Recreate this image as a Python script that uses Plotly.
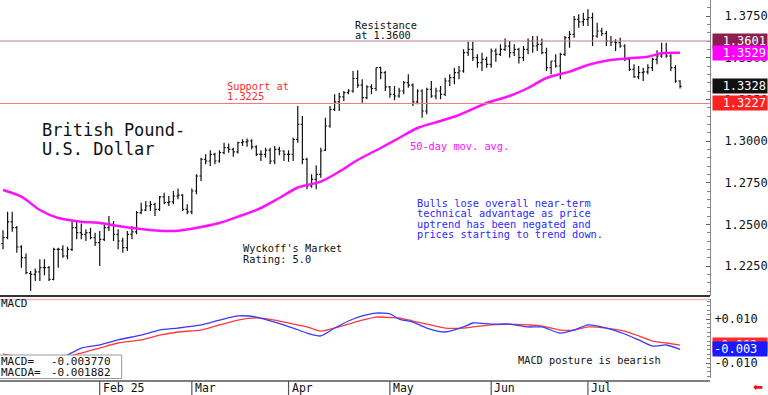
import pandas as pd
import plotly.graph_objects as go

# ---------------- data ----------------
dates = pd.bdate_range("2025-01-03", "2025-07-29").strftime("%Y-%m-%d").tolist()

opens = [1.2385,1.2420,1.2515,1.2480,1.2365,1.2300,1.2205,1.2200,1.2215,1.2240,1.2240,1.2170,1.2350,1.2350,1.2310,1.2350,1.2480,1.2450,1.2440,1.2450,1.2420,
         1.2390,1.2410,1.2480,1.2500,1.2440,1.2400,1.2360,1.2440,1.2455,1.2570,1.2585,1.2610,1.2620,1.2590,1.2665,1.2630,1.2635,1.2670,1.2675,1.2590,
         1.2575,1.2700,1.2790,1.2890,1.2880,1.2920,1.2880,1.2930,1.2960,1.2950,1.2935,1.2990,1.2995,1.3000,1.2965,1.2920,1.2920,1.2945,1.2880,1.2950,1.2940,
         1.2920,1.2920,1.3010,1.3100,1.2890,1.2730,1.2770,1.2800,1.2945,1.3090,1.3190,1.3235,1.3265,1.3290,1.3300,1.3375,1.3335,1.3260,1.3325,1.3315,1.3440,1.3410,
         1.3325,1.3280,1.3270,1.3300,1.3350,1.3335,1.3235,1.3300,1.3180,1.3310,1.3270,1.3300,1.3280,1.3360,1.3380,1.3410,1.3420,1.3530,1.3550,1.3500,1.3470,1.3490,
         1.3460,1.3540,1.3520,1.3550,1.3570,1.3530,1.3550,1.3500,1.3550,1.3600,1.3570,1.3580,1.3530,1.3440,1.3480,1.3450,1.3520,1.3620,1.3640,1.3730,1.3715,
         1.3730,1.3740,1.3630,1.3660,1.3645,1.3600,1.3595,1.3590,1.3570,1.3490,1.3430,1.3385,1.3410,1.3415,1.3440,1.3490,1.3510,1.3530,1.3510,1.3440,1.3360]

highs = [1.2465,1.2575,1.2575,1.2490,1.2375,1.2325,1.2220,1.2235,1.2290,1.2290,1.2250,1.2360,1.2360,1.2375,1.2365,1.2520,1.2520,1.2505,1.2470,1.2480,1.2450,
         1.2460,1.2500,1.2550,1.2520,1.2470,1.2420,1.2460,1.2490,1.2580,1.2630,1.2640,1.2640,1.2630,1.2670,1.2690,1.2670,1.2700,1.2715,1.2680,1.2620,
         1.2715,1.2800,1.2900,1.2920,1.2945,1.2930,1.2945,1.2990,1.2985,1.2960,1.2995,1.3010,1.3015,1.3010,1.2975,1.2945,1.2960,1.2960,1.2970,1.2965,1.2945,
         1.2945,1.3020,1.3210,1.3150,1.2900,1.2800,1.2855,1.2960,1.3140,1.3210,1.3280,1.3290,1.3300,1.3310,1.3420,1.3425,1.3370,1.3335,1.3340,1.3440,1.3445,1.3420,
         1.3330,1.3330,1.3320,1.3360,1.3400,1.3345,1.3310,1.3310,1.3320,1.3360,1.3320,1.3330,1.3380,1.3400,1.3440,1.3450,1.3550,1.3595,1.3595,1.3520,1.3530,1.3505,
         1.3555,1.3555,1.3580,1.3615,1.3600,1.3580,1.3560,1.3570,1.3615,1.3630,1.3630,1.3615,1.3560,1.3480,1.3520,1.3530,1.3630,1.3660,1.3750,1.3760,1.3770,
         1.3790,1.3770,1.3710,1.3680,1.3660,1.3630,1.3610,1.3620,1.3580,1.3500,1.3460,1.3450,1.3440,1.3460,1.3500,1.3545,1.3590,1.3590,1.3520,1.3455,1.3365]

lows = [1.2350,1.2410,1.2455,1.2330,1.2240,1.2200,1.2100,1.2160,1.2160,1.2195,1.2160,1.2165,1.2240,1.2300,1.2290,1.2340,1.2410,1.2410,1.2400,1.2410,1.2370,
        1.2250,1.2400,1.2460,1.2400,1.2350,1.2330,1.2340,1.2410,1.2440,1.2560,1.2580,1.2580,1.2550,1.2580,1.2620,1.2610,1.2620,1.2650,1.2580,1.2560,
        1.2560,1.2680,1.2760,1.2860,1.2850,1.2860,1.2870,1.2920,1.2930,1.2905,1.2925,1.2970,1.2965,1.2950,1.2910,1.2880,1.2900,1.2860,1.2860,1.2915,1.2880,
        1.2875,1.2880,1.2990,1.2860,1.2710,1.2720,1.2710,1.2780,1.2940,1.3080,1.3180,1.3180,1.3240,1.3280,1.3290,1.3320,1.3230,1.3250,1.3280,1.3300,1.3370,1.3300,
        1.3260,1.3245,1.3260,1.3280,1.3320,1.3210,1.3220,1.3140,1.3160,1.3260,1.3250,1.3250,1.3270,1.3330,1.3340,1.3370,1.3410,1.3510,1.3480,1.3440,1.3420,1.3440,
        1.3440,1.3475,1.3510,1.3540,1.3500,1.3510,1.3465,1.3480,1.3520,1.3530,1.3540,1.3520,1.3420,1.3400,1.3440,1.3370,1.3510,1.3560,1.3620,1.3680,1.3690,
        1.3690,1.3570,1.3620,1.3630,1.3570,1.3570,1.3540,1.3560,1.3480,1.3420,1.3380,1.3370,1.3360,1.3400,1.3420,1.3460,1.3500,1.3500,1.3420,1.3350,1.3315]

closes = [1.2420,1.2515,1.2480,1.2365,1.2300,1.2210,1.2200,1.2215,1.2240,1.2240,1.2170,1.2350,1.2350,1.2310,1.2350,1.2480,1.2450,1.2440,1.2450,1.2420,1.2390,
          1.2410,1.2480,1.2500,1.2440,1.2400,1.2360,1.2440,1.2455,1.2570,1.2585,1.2610,1.2620,1.2590,1.2665,1.2630,1.2635,1.2670,1.2675,1.2590,1.2575,
          1.2700,1.2790,1.2890,1.2880,1.2920,1.2880,1.2930,1.2960,1.2950,1.2935,1.2990,1.2995,1.3000,1.2965,1.2920,1.2920,1.2945,1.2880,1.2950,1.2940,1.2920,
          1.2920,1.3010,1.3100,1.2890,1.2730,1.2770,1.2800,1.2940,1.3090,1.3190,1.3235,1.3265,1.3290,1.3300,1.3375,1.3335,1.3260,1.3325,1.3315,1.3440,1.3410,1.3325,
          1.3280,1.3270,1.3300,1.3350,1.3335,1.3235,1.3300,1.3180,1.3310,1.3270,1.3300,1.3280,1.3360,1.3380,1.3410,1.3420,1.3530,1.3550,1.3500,1.3470,1.3490,1.3460,
          1.3540,1.3520,1.3550,1.3570,1.3530,1.3550,1.3500,1.3550,1.3600,1.3570,1.3580,1.3530,1.3440,1.3480,1.3450,1.3520,1.3620,1.3640,1.3730,1.3715,1.3730,
          1.3740,1.3630,1.3660,1.3645,1.3600,1.3595,1.3590,1.3570,1.3490,1.3430,1.3385,1.3410,1.3415,1.3440,1.3490,1.3510,1.3530,1.3510,1.3440,1.3360,1.3328]

# 50-day moving average, read at sample bars
ma_idx = [0,4,8,12,17,21,25,30,34,38,43,47,51,56,60,64,69,73,77,82,86,90,95,99,105,110,114,118,123,127,131,136,140,143,147]
ma_val = [1.2706,1.2666,1.2586,1.2538,1.2516,1.2508,1.2490,1.2472,1.2462,1.2462,1.2484,1.2508,1.2546,1.2598,1.2658,1.2721,1.2756,1.2816,1.2886,1.2958,
          1.3018,1.3078,1.3120,1.3156,1.3228,1.3270,1.3318,1.3378,1.3416,1.3456,1.3482,1.3496,1.3506,1.3526,1.3529]

# MACD and its signal line (MACDA), read at sample bars
macd_idx = [0,5,10,14,17,21,25,30,34,38,43,47,51,55,59,63,66,69,72,75,78,81,84,86,89,92,96,100,102,106,110,114,117,121,124,127,131,135,138,141,144,147]
macd_val = [-0.0070,-0.0100,-0.0110,-0.0064,-0.0032,-0.0018,0.0005,0.0027,0.0050,0.0059,0.0073,0.0095,0.0114,0.0109,0.0086,0.0059,0.0036,0.0023,0.0059,0.0091,
            0.0114,0.0127,0.0123,0.0100,0.0086,0.0059,0.0041,0.0064,0.0082,0.0077,0.0077,0.0064,0.0064,0.0036,0.0050,0.0073,0.0059,0.0032,0.0005,-0.0023,
            -0.0018,-0.003770]
signal_val = [-0.0060,-0.0075,-0.0090,-0.0070,-0.0055,-0.0032,-0.0009,0.0005,0.0027,0.0041,0.0050,0.0073,0.0095,0.0105,0.0095,0.0077,0.0064,0.0045,0.0059,0.0077,
              0.0095,0.0109,0.0107,0.0105,0.0091,0.0077,0.0059,0.0059,0.0064,0.0073,0.0077,0.0073,0.0068,0.0050,0.0050,0.0064,0.0059,0.0045,0.0023,0.0000,
              -0.0009,-0.001882]

resistance = 1.3600
support = 1.3225
price_ticks = [1.2250, 1.2500, 1.2750, 1.3000, 1.3250, 1.3500, 1.3750]
macd_ticks = [0.010, -0.010]
macd_ticktext = ["+0.010", "-0.010"]
month_labels = ["Feb 25", "Mar", "Apr", "May", "Jun", "Jul"]
month_nums = ["02", "03", "04", "05", "06", "07"]
price_markers = [(1.3601, "#8b1f4f"), (1.3529, "#ff00ff"), (1.3328, "#111111"), (1.3227, "#ff2020")]
macd_markers = [(-0.001882, "-0.002", "#ff2a2a"), (-0.003770, "-0.003", "#1a1aff")]

# ---------------- figure ----------------
MONO = "DejaVu Sans Mono"
PW, PH = 712, 378  # plot area size in px


def px(x):
    return x / PW


def py(y):
    return (PH - y) / PH


fig = go.Figure()

fig.add_trace(go.Ohlc(
    x=dates, open=opens, high=highs, low=lows, close=closes,
    increasing=dict(line=dict(color="#111111", width=1.2)),
    decreasing=dict(line=dict(color="#111111", width=1.2)),
    tickwidth=0.35, xaxis="x", yaxis="y", hoverinfo="skip"))

fig.add_trace(go.Scatter(
    x=[dates[i] for i in ma_idx], y=ma_val, mode="lines",
    line=dict(color="#ff10ff", width=2.5, shape="spline", smoothing=0.8),
    xaxis="x", yaxis="y", hoverinfo="skip"))

fig.add_trace(go.Scatter(
    x=[dates[i] for i in macd_idx], y=signal_val, mode="lines",
    line=dict(color="#ff3a3a", width=1.3, shape="spline", smoothing=0.6),
    xaxis="x", yaxis="y2", hoverinfo="skip"))
fig.add_trace(go.Scatter(
    x=[dates[i] for i in macd_idx], y=macd_val, mode="lines",
    line=dict(color="#3a3aff", width=1.3, shape="spline", smoothing=0.6),
    xaxis="x", yaxis="y2", hoverinfo="skip"))

price_dom_bottom = py(296)
macd_dom_top = py(299)

fig.update_layout(
    width=768, height=395,
    margin=dict(l=0, r=56, t=0, b=17, pad=0),
    paper_bgcolor="white", plot_bgcolor="white",
    showlegend=False,
    xaxis=dict(type="category", categoryorder="array", categoryarray=dates,
               range=[-0.65, 153.5], showticklabels=False, ticks="",
               showgrid=False, zeroline=False, showline=False,
               rangeslider=dict(visible=False), anchor="y2", fixedrange=True),
    yaxis=dict(domain=[price_dom_bottom, 1], range=[1.2070, 1.3846], side="right",
               tickvals=price_ticks, tickformat=".4f", ticks="inside", ticklen=4,
               tickcolor="#666", minor=dict(dtick=0.005, tick0=1.2, ticks="inside", ticklen=3, tickcolor="#888"),
               showline=True, linecolor="#888", linewidth=1, showgrid=False, zeroline=False,
               tickfont=dict(family=MONO, size=12, color="#111"), ticklabelstandoff=11,
               anchor="x", fixedrange=True),
    yaxis2=dict(domain=[0, macd_dom_top], range=[-0.0168, 0.0191], side="right",
                tickvals=macd_ticks, ticktext=macd_ticktext, ticks="inside", ticklen=4,
                tickcolor="#666", minor=dict(dtick=0.002, tick0=0, ticks="inside", ticklen=3, tickcolor="#888"),
                showline=True, linecolor="#888", linewidth=1, showgrid=False, zeroline=False,
                tickfont=dict(family=MONO, size=12, color="#111"), ticklabelstandoff=1,
                anchor="x", fixedrange=True),
)

shapes = [
    dict(type="line", xref="paper", yref="y", x0=0, x1=1, y0=resistance, y1=resistance,
         line=dict(color="#c27a9a", width=1.2)),
    dict(type="line", xref="paper", yref="y", x0=0, x1=1, y0=support, y1=support,
         line=dict(color="#f27a7a", width=1.2)),
    dict(type="line", xref="paper", yref="paper", x0=0, x1=1, y0=py(296), y1=py(296),
         line=dict(color="#333333", width=2)),
    dict(type="line", xref="paper", yref="paper", x0=0, x1=1, y0=py(299.5), y1=py(299.5),
         line=dict(color="#f6b6b6", width=1.5)),
    dict(type="line", xref="paper", yref="paper", x0=0, x1=1, y0=py(381), y1=py(381),
         line=dict(color="#555555", width=1.5)),
    dict(type="rect", xref="paper", yref="paper", x0=-0.01, x1=px(122), y0=py(378.5), y1=py(355),
         fillcolor="white", line=dict(color="#999999", width=1), layer="above"),
]

annotations = []
for lab, mn in zip(month_labels, month_nums):
    d = next(dd for dd in dates if dd[5:7] == mn)
    shapes.append(dict(type="line", xref="x", yref="paper", x0=d, x1=d, y0=py(381), y1=py(396),
                       line=dict(color="#555555", width=1.2)))
    annotations.append(dict(xref="x", yref="paper", x=d, y=py(387.5), text=lab, showarrow=False,
                            xanchor="left", yanchor="middle", xshift=1,
                            font=dict(family=MONO, size=11.5, color="#111")))

for val, col in price_markers:
    annotations.append(dict(xref="paper", yref="y", x=1, y=val, text=f"{val:.4f}", showarrow=False,
                            xanchor="left", yanchor="middle", xshift=2, width=52, height=12,
                            align="right", borderpad=1, bgcolor=col,
                            font=dict(family=MONO, size=12, color="white")))
for val, txt, col in macd_markers:
    annotations.append(dict(xref="paper", yref="y2", x=1, y=val, text=txt, showarrow=False,
                            xanchor="left", yanchor="middle", xshift=2, width=52, height=12,
                            align="left", borderpad=1, bgcolor=col,
                            font=dict(family=MONO, size=12, color="white")))


def label(x, y, text, size=10.3, color="#111", family=MONO):
    annotations.append(dict(xref="paper", yref="paper", x=px(x), y=py(y), text=text, showarrow=False,
                            xanchor="left", yanchor="middle", font=dict(family=family, size=size, color=color)))


label(40, 130, "British Pound-", size=17)
label(40, 148.5, "U.S. Dollar", size=17)
label(354, 25, "Resistance")
label(354, 34.5, "at 1.3600")
label(226, 86, "Support at", color="#ff2a2a")
label(226, 96, "1.3225", color="#ff2a2a")
label(409, 146, "50-day mov. avg.", color="#ff10ff")
label(416, 202.5, "Bulls lose overall near-term", color="#2a2aff")
label(416, 213, "technical advantage as price", color="#2a2aff")
label(416, 223.5, "uptrend has been negated and", color="#2a2aff")
label(416, 234, "prices starting to trend down.", color="#2a2aff")
label(242, 247.5, "Wyckoff's Market")
label(242, 258.5, "Rating: 5.0")
label(517, 359.5, "MACD posture is bearish")
label(-1, 303.5, "MACD", size=11)
label(-1, 361, "MACD=", size=11)
label(49, 361, "-0.003770", size=11)
label(-1, 372, "MACDA=", size=11)
label(49, 372, "-0.001882", size=11)
annotations.append(dict(xref="paper", yref="paper", x=px(760), y=py(387), text="⬅", showarrow=False,
                        xanchor="center", yanchor="middle", font=dict(family="DejaVu Sans", size=12, color="#ee1111")))

fig.update_layout(shapes=shapes, annotations=annotations)
fig.write_html("out.html", config={"displayModeBar": False},
               post_script="document.body.style.margin='0';document.body.style.overflow='hidden';")
